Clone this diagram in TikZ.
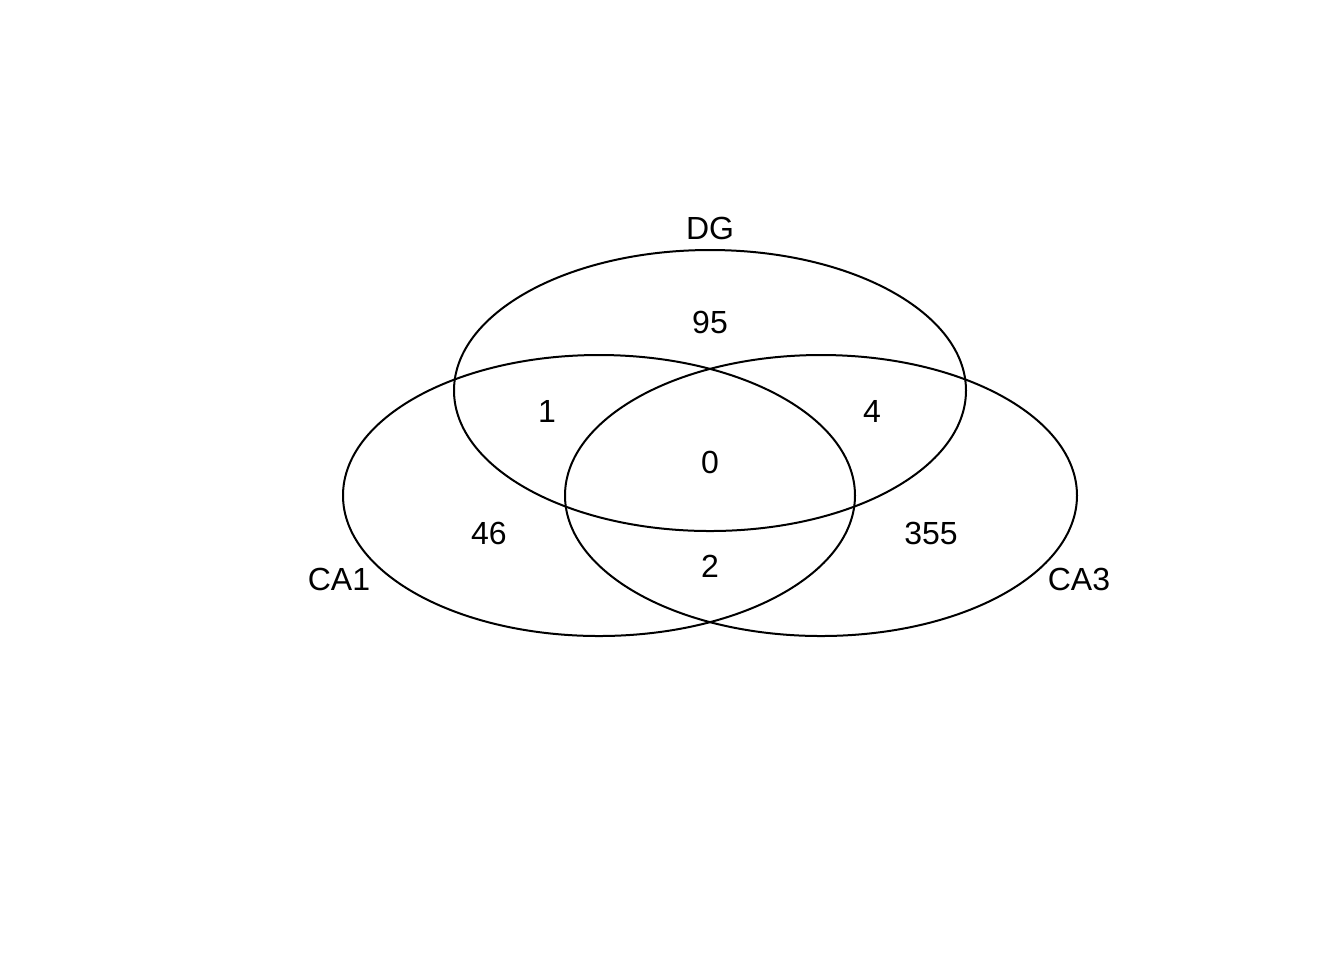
\documentclass[tikz,border=0pt]{standalone}
\usepackage{fontspec}
\setmainfont{Liberation Sans}
\usepackage{tikz}

\begin{document}
\begin{tikzpicture}[x=0.375pt, y=-0.375pt]
    % Define styles
    \tikzstyle{set} = [draw=black, line width=0.75pt]
    \tikzstyle{count} = [inner sep=0pt, font=\fontsize{12}{14}\selectfont]
    \tikzstyle{setname} = [inner sep=0pt, font=\fontsize{12}{14}\selectfont]

    \useasboundingbox (0,0) rectangle (1344,960);

    % Sets
    \draw [set] (710,390.5) ellipse [x radius=256, y radius=140.5];
    \draw [set] (599,495.5) ellipse [x radius=256, y radius=140.5];
    \draw [set] (821,495.5) ellipse [x radius=256, y radius=140.5];

    % Set names
    \node (dg) [setname] at (710,228) {DG};
    \node (ca1) [setname] at (339,579) {CA1};
    \node (ca3) [setname] at (1079,579) {CA3};

    % Counts
    \node (onlydg) [count] at (710,322) {95};
    \node (dgca1) [count] at (547,411) {1};
    \node (dgca3) [count] at (872,411) {4};
    \node (all) [count] at (710,462) {0};
    \node (onlyca1) [count] at (489,533) {46};
    \node (onlyca3) [count] at (931,533) {355};
    \node (ca1ca3) [count] at (710,566) {2};
\end{tikzpicture}
\end{document}
